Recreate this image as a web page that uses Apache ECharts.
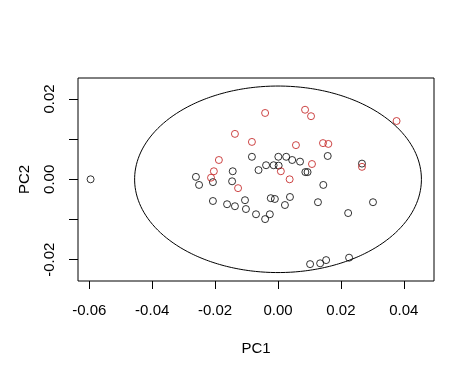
<!DOCTYPE html>
<html>
<head>
<meta charset="utf-8">
<script src="https://cdn.jsdelivr.net/npm/echarts@6/dist/echarts.min.js"></script>
<style>html,body{margin:0;padding:0;background:#fff;}#c{width:475px;height:379px;}</style>
</head>
<body>
<div id="c"></div>
<script>
// Group 1 (black) PC scores
const blackPC1 = [-0.0596,-0.0261,-0.0251,-0.0207,-0.0146,-0.0144,-0.0083,-0.0062,-0.0207,-0.0162,-0.0137,-0.0105,-0.0102,-0.0070,0.0001,0.0026,0.0045,0.0070,0.0158,-0.0038,-0.0014,0.0002,0.0087,0.0094,0.0267,0.0144,-0.0023,-0.0010,0.0038,0.0022,0.0127,0.0302,-0.0041,-0.0026,0.0223,0.0102,0.0134,0.0153,0.0226];
const blackPC2 = [0.0000,0.0006,-0.0014,-0.0007,-0.0005,0.0020,0.0056,0.0023,-0.0054,-0.0062,-0.0067,-0.0052,-0.0074,-0.0087,0.0056,0.0056,0.0048,0.0044,0.0058,0.0035,0.0035,0.0034,0.0018,0.0018,0.0039,-0.0014,-0.0047,-0.0049,-0.0044,-0.0064,-0.0057,-0.0057,-0.0099,-0.0087,-0.0084,-0.0211,-0.0209,-0.0201,-0.0195];
// Group 2 (red) PC scores
const redPC1 = [-0.0137,-0.0083,-0.0188,-0.0204,-0.0213,-0.0041,0.0086,0.0105,0.0377,0.0057,0.0143,0.0160,0.0108,0.0009,0.0037,0.0267,-0.0127];
const redPC2 = [0.0113,0.0093,0.0048,0.0020,0.0004,0.0165,0.0173,0.0157,0.0145,0.0085,0.0090,0.0088,0.0038,0.0020,0.0000,0.0031,-0.0022];
// Confidence ellipse parameters
const ellipseCenter = [0.0, 0.0];
const ellipseRadii = [0.0456, 0.0232];
// Axis ticks
const xTicks = [-0.06,-0.04,-0.02,0.00,0.02,0.04];
const yTicks = [-0.02,-0.01,0.00,0.01,0.02];
const yLabels = [-0.02,0.00,0.02];
const xRange = [-0.0636, 0.0496];
const yRange = [-0.0253, 0.0252];

const zip = (a,b)=>a.map((v,i)=>[v,b[i]]);
const ell = [];
for (let i=0;i<=360;i++){const t=i*Math.PI/180;ell.push([ellipseCenter[0]+ellipseRadii[0]*Math.cos(t), ellipseCenter[1]+ellipseRadii[1]*Math.sin(t)]);}

const font = 'Liberation Sans, Arial, sans-serif';
const chart = echarts.init(document.getElementById('c'), null, {renderer:'canvas'});
chart.setOption({
  animation:false,
  backgroundColor:'#fff',
  grid:{left:78,right:41,top:78,bottom:98,show:true,borderColor:'#000',borderWidth:1,backgroundColor:'transparent'},
  xAxis:{type:'value',min:xRange[0],max:xRange[1],position:'bottom',
    name:'PC1',nameLocation:'middle',nameGap:60,nameTextStyle:{color:'#000',fontSize:15,fontFamily:font},
    axisLine:{show:false,onZero:false},splitLine:{show:false},
    axisTick:{show:true,inside:false,length:8,lineStyle:{color:'#000'},customValues:xTicks},
    axisLabel:{color:'#000',fontSize:15,fontFamily:font,margin:22,customValues:xTicks,formatter:v=>(+v).toFixed(2)}},
  yAxis:{type:'value',min:yRange[0],max:yRange[1],position:'left',
    name:'PC2',nameLocation:'middle',nameGap:46,nameRotate:90,nameTextStyle:{color:'#000',fontSize:15,fontFamily:font},
    axisLine:{show:false,onZero:false},splitLine:{show:false},
    axisTick:{show:true,length:9,lineStyle:{color:'#000'},customValues:yTicks},
    axisLabel:{color:'#000',fontSize:15,fontFamily:font,margin:21,rotate:90,customValues:yLabels,formatter:v=>(+v).toFixed(2)}},
  series:[
    {type:'line',data:ell,showSymbol:false,smooth:false,lineStyle:{color:'#000',width:1},silent:true,clip:true},
    {type:'scatter',data:zip(blackPC1,blackPC2),symbol:'circle',symbolSize:7,itemStyle:{color:'transparent',borderColor:'#000',borderWidth:1}},
    {type:'scatter',data:zip(redPC1,redPC2),symbol:'circle',symbolSize:7,itemStyle:{color:'transparent',borderColor:'#c01818',borderWidth:1}}
  ]
});
</script>
</body>
</html>
